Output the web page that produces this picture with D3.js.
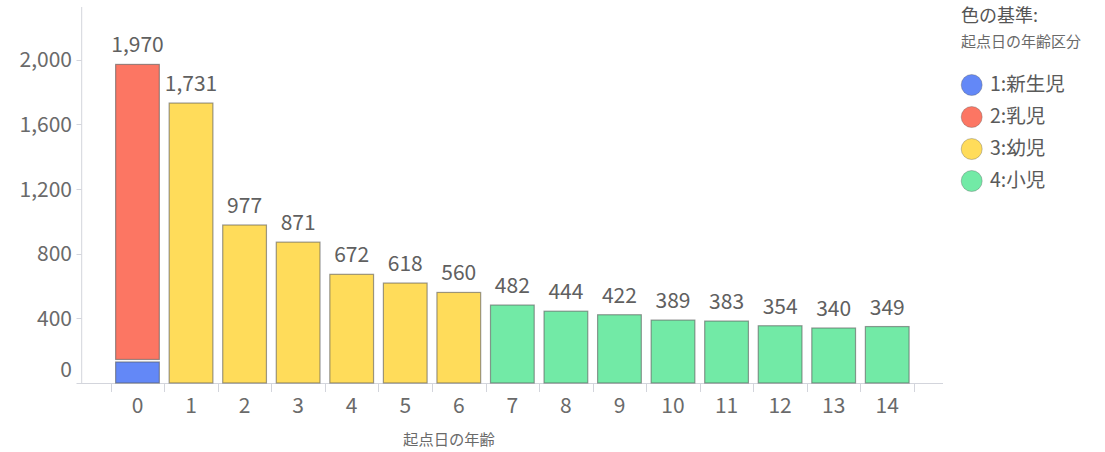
<!DOCTYPE html>
<html><head><meta charset="utf-8">
<script src="https://cdn.jsdelivr.net/npm/d3@7"></script>
<style>
body{margin:0;background:#fff;}
text{font-family:"Noto Sans CJK JP","Noto Sans",sans-serif;}
</style></head>
<body><svg id="c" width="1105" height="452"></svg>
<script>
const categories = ["0","1","2","3","4","5","6","7","8","9","10","11","12","13","14"];
const seriesNames = ["1:新生児","2:乳児","3:幼児","4:小児"];
const newborn = [130,0,0,0,0,0,0,0,0,0,0,0,0,0,0];
const infant  = [1840,0,0,0,0,0,0,0,0,0,0,0,0,0,0];
const toddler = [0,1731,977,871,672,618,560,0,0,0,0,0,0,0,0];
const child   = [0,0,0,0,0,0,0,482,444,422,389,383,354,340,349];
const colors = ["#6388f7","#fc7663","#ffdc5a","#72eaa6"];
const yTicks = [0,400,800,1200,1600,2000];
const legendTitle = "色の基準:";
const legendSub = "起点日の年齢区分";
const xTitle = "起点日の年齢";

const svg = d3.select("#c");
const textCol = "#6a6a6a";
const axisCol = "#d3d5dc";

const x = d3.scaleBand().domain(categories).range([110.7, 914]).paddingInner(0.165).paddingOuter(0.0825);
const y = d3.scaleLinear().domain([0, 2325]).range([383, 7]);

const rows = categories.map((c,i)=>({cat:c, s0:newborn[i], s1:infant[i], s2:toddler[i], s3:child[i]}));
const stack = d3.stack().keys(["s0","s1","s2","s3"])(rows);

// axes lines
svg.append("line").attr("x1",81.7).attr("x2",81.7).attr("y1",7).attr("y2",383).attr("stroke",axisCol);
svg.append("line").attr("x1",77).attr("x2",943).attr("y1",383.5).attr("y2",383.5).attr("stroke",axisCol);

// y ticks
const yg = svg.append("g");
yTicks.forEach(t=>{
  const yy = y(t);
  yg.append("line").attr("x1",76.5).attr("x2",81.7).attr("y1",Math.round(yy)+0.5).attr("y2",Math.round(yy)+0.5).attr("stroke",axisCol);
  yg.append("text").attr("x",72).attr("y", t===0 ? yy-12 : yy+2).attr("text-anchor","end")
    .attr("dominant-baseline","middle").attr("font-size",21).attr("fill",textCol).text(d3.format(",")(t));
});

// x ticks at band edges
const xg = svg.append("g");
const step = x.step();
const start = x.range()[0];
for(let i=0;i<=categories.length;i++){
  const xx = Math.round(start + i*step)+0.5;
  xg.append("line").attr("x1",xx).attr("x2",xx).attr("y1",384).attr("y2",392).attr("stroke",axisCol);
}
categories.forEach(c=>{
  xg.append("text").attr("x",x(c)+x.bandwidth()/2).attr("y",407).attr("text-anchor","middle")
    .attr("dominant-baseline","middle").attr("font-size",21).attr("fill",textCol).text(c);
});

// bars
stack.forEach((layer,k)=>{
  svg.append("g").selectAll("rect").data(layer.filter(d=>d[1]-d[0]>0)).join("rect")
    .attr("x",d=>x(d.data.cat)+0.5)
    .attr("width",x.bandwidth()-1)
    .attr("y",d=>y(d[1]))
    .attr("height",d=>y(d[0])-y(d[1])-(d[0]>0?2.5:0))
    .attr("fill",colors[k])
    .attr("stroke","rgba(90,90,90,0.6)")
    .attr("stroke-width",1.2);
});

// value labels
rows.forEach((r,i)=>{
  const tot = newborn[i]+infant[i]+toddler[i]+child[i];
  svg.append("text").attr("x",x(r.cat)+x.bandwidth()/2).attr("y",y(tot)-12)
    .attr("text-anchor","middle").attr("font-size",21).attr("fill","#606060").text(d3.format(",")(tot));
});

// x title
svg.append("text").attr("x",449).attr("y",441).attr("text-anchor","middle").attr("dominant-baseline","middle")
  .attr("font-size",15.3).attr("fill",textCol).text(xTitle);

// legend
svg.append("text").attr("x",961).attr("y",17).attr("dominant-baseline","middle").attr("font-size",18).attr("fill","#555").text(legendTitle);
svg.append("text").attr("x",961).attr("y",43).attr("dominant-baseline","middle").attr("font-size",15).attr("fill",textCol).text(legendSub);
seriesNames.forEach((n,i)=>{
  const cy = 85 + i*32;
  svg.append("circle").attr("cx",971.7).attr("cy",cy).attr("r",10.5).attr("fill",colors[i]).attr("stroke","rgba(90,90,90,0.35)").attr("stroke-width",1);
  svg.append("text").attr("x",990).attr("y",cy+1).attr("dominant-baseline","middle").attr("font-size",19.5).attr("fill","#5a5a5a").text(n);
});
</script></body></html>
